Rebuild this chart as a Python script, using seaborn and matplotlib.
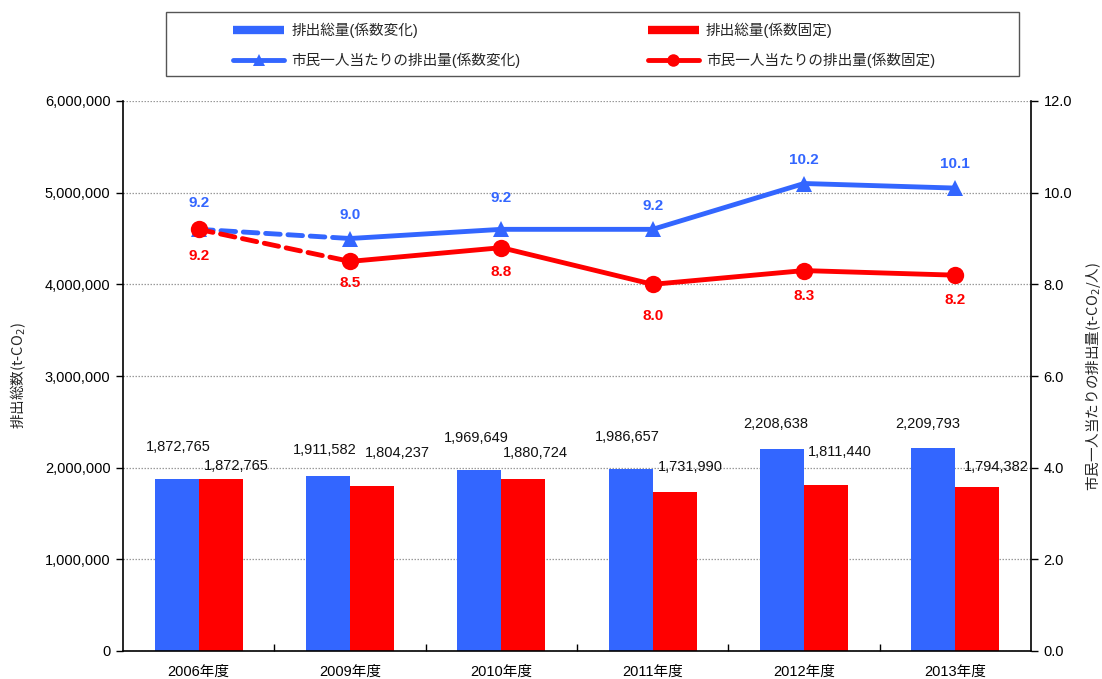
import matplotlib
matplotlib.use("Agg")
import matplotlib.pyplot as plt
from matplotlib.lines import Line2D
from matplotlib.patches import Rectangle
import numpy as np
import pandas as pd
import seaborn as sns

# --- data ---
years = ["2006年度", "2009年度", "2010年度", "2011年度", "2012年度", "2013年度"]
total_var = [1872765, 1911582, 1969649, 1986657, 2208638, 2209793]     # 排出総量(係数変化)
total_fix = [1872765, 1804237, 1880724, 1731990, 1811440, 1794382]     # 排出総量(係数固定)
per_var = [9.2, 9.0, 9.2, 9.2, 10.2, 10.1]                              # 市民一人当たり(係数変化)
per_fix = [9.2, 8.5, 8.8, 8.0, 8.3, 8.2]                                # 市民一人当たり(係数固定)

name_bar_var = "排出総量(係数変化)"
name_bar_fix = "排出総量(係数固定)"
name_line_var = "市民一人当たりの排出量(係数変化)"
name_line_fix = "市民一人当たりの排出量(係数固定)"

BLUE = "#3366FF"
RED = "#FF0000"

sns.set_theme(style="white")
plt.rcParams["font.family"] = ["Liberation Sans", "Noto Sans CJK JP", "DejaVu Sans"]
plt.rcParams["axes.unicode_minus"] = False
CJK = ["Noto Sans CJK JP", "DejaVu Sans"]

fig = plt.figure(figsize=(11.02, 6.79), dpi=100)
ax = fig.add_axes([123 / 1102, 1 - 651 / 679, 908 / 1102, 550 / 679])

df = pd.DataFrame({
    "year": years * 2,
    "value": total_var + total_fix,
    "series": [name_bar_var] * len(years) + [name_bar_fix] * len(years),
})
sns.barplot(data=df, x="year", y="value", hue="series", order=years,
            hue_order=[name_bar_var, name_bar_fix],
            palette=[BLUE, RED], width=0.58, gap=0, saturation=1,
            edgecolor="none", linewidth=0, legend=False, ax=ax, zorder=2)

ax.set_xlim(-0.5, len(years) - 0.5)
ax.set_ylim(0, 6_000_000)
ax.set_yticks(np.arange(0, 6_000_001, 1_000_000))
ax.yaxis.set_major_formatter(matplotlib.ticker.FuncFormatter(lambda v, p: f"{int(v):,}"))
ax.grid(axis="y", color="#9a9a9a", linestyle=(0, (1.2, 1.2)), linewidth=0.9, zorder=0)
ax.set_axisbelow(True)
ax.set_xlabel("")
ax.set_ylabel("排出総数(t-CO$_2$)", fontsize=10.5, labelpad=12, family=CJK)

for s in ["top", "right"]:
    ax.spines[s].set_visible(False)
for s in ["left", "bottom"]:
    ax.spines[s].set_color("black")
    ax.spines[s].set_linewidth(1.2)

ax.tick_params(axis="y", left=True, direction="out", length=5, width=1,
               labelsize=10.5, colors="black", pad=4)
ax.tick_params(axis="x", bottom=False, labelsize=10.5, colors="black", pad=4)
ax.set_xticks(np.arange(0.5, len(years) - 1, 1), minor=True)
ax.tick_params(axis="x", which="minor", bottom=True, direction="in", length=5, width=1, color="black")

# bar value labels (pixel offsets from the top of each bar)
bar_w = 0.29
var_off = [(2, 32), (-3, 26), (-3, 32), (-3, 32), (-6, 25), (-6, 24)]
fix_off = [(16, 13), (25, 33), (12, 26), (16, 25), (14, 33), (19, 20)]
for i in range(len(years)):
    ax.annotate(f"{total_var[i]:,}", (i - bar_w / 2, total_var[i]),
                xytext=var_off[i], textcoords="offset pixels",
                ha="center", va="center", fontsize=10.5, color="#111111", zorder=5)
    ax.annotate(f"{total_fix[i]:,}", (i + bar_w / 2, total_fix[i]),
                xytext=fix_off[i], textcoords="offset pixels",
                ha="center", va="center", fontsize=10.5, color="#111111", zorder=5)

# per-capita lines on the secondary axis
ax2 = ax.twinx()
ax2.set_ylim(0, 12)
ax2.set_yticks(np.arange(0, 12.01, 2))
ax2.yaxis.set_major_formatter(matplotlib.ticker.FormatStrFormatter("%.1f"))
ax2.grid(False)
for s in ["top", "left", "bottom"]:
    ax2.spines[s].set_visible(False)
ax2.spines["right"].set_color("black")
ax2.spines["right"].set_linewidth(1.2)
ax2.tick_params(axis="y", right=True, direction="out", length=5, width=1,
                labelsize=10.5, colors="black", pad=4)
ax2.set_ylabel("市民一人当たりの排出量(t-CO$_2$/人)", fontsize=10.5, labelpad=8, family=CJK)

xpos = np.arange(len(years))
lw = 3.5
for vals, color, marker, ms in [(per_var, BLUE, "^", 11), (per_fix, RED, "o", 12.5)]:
    # dashed segment between the first two years, solid afterwards
    sns.lineplot(x=xpos[:2], y=vals[:2], ax=ax2, color=color, linewidth=lw,
                 dashes=False, linestyle=(0, (3, 1.6)), dash_capstyle="round",
                 solid_capstyle="round", zorder=3)
    sns.lineplot(x=xpos[1:], y=vals[1:], ax=ax2, color=color, linewidth=lw,
                 solid_capstyle="round", zorder=3)
    ax2.plot(xpos, vals, linestyle="none", marker=marker, markersize=ms,
             color=color, markeredgewidth=0, zorder=4)

var_lab = [26, 24, 31, 23, 24, 24]
fix_lab = [27, 22, 24, 32, 25, 25]
for i in range(len(years)):
    ax2.annotate(f"{per_var[i]:.1f}", (xpos[i], per_var[i]), xytext=(0, var_lab[i]),
                 textcoords="offset pixels", ha="center", va="center",
                 fontsize=11, fontweight="bold", color=BLUE, zorder=5)
    ax2.annotate(f"{per_fix[i]:.1f}", (xpos[i], per_fix[i]), xytext=(0, -fix_lab[i]),
                 textcoords="offset pixels", ha="center", va="center",
                 fontsize=11, fontweight="bold", color=RED, zorder=5)
ax2.set_xlim(-0.5, len(years) - 0.5)

# legend box
fig.patches.append(Rectangle((166 / 1102, 1 - 76 / 679), 853 / 1102, 64 / 679,
                             transform=fig.transFigure, facecolor="white",
                             edgecolor="#555555", linewidth=1.0, zorder=0))
handles = [
    Line2D([], [], color=BLUE, linewidth=6, solid_capstyle="butt"),
    Line2D([], [], color=BLUE, linewidth=lw, marker="^", markersize=8, markeredgewidth=0),
    Line2D([], [], color=RED, linewidth=6, solid_capstyle="butt"),
    Line2D([], [], color=RED, linewidth=lw, marker="o", markersize=9, markeredgewidth=0),
]
labels = [name_bar_var, name_line_var, name_bar_fix, name_line_fix]
fig.legend(handles, labels, ncol=2, loc="center left",
           bbox_to_anchor=(226 / 1102, 1 - 45 / 679), frameon=False,
           fontsize=10.5, handlelength=3.5, handletextpad=0.5,
           columnspacing=8.7, labelspacing=1.0, borderpad=0)

fig.savefig("out.png", dpi=100)
